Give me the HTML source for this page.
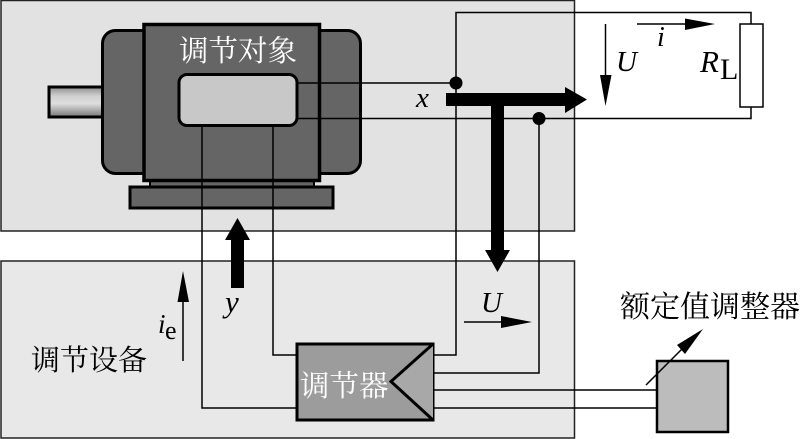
<!DOCTYPE html>
<html><head><meta charset="utf-8"><style>
html,body{margin:0;padding:0;background:#fff;width:800px;height:439px;overflow:hidden}
svg{display:block}
.c{font-family:"Liberation Serif","Noto Serif CJK SC",serif}
.i{font-family:"Liberation Serif",serif;font-style:italic}
.r{font-family:"Liberation Serif",serif}
</style></head><body>
<svg width="800" height="439" viewBox="0 0 800 439" xmlns="http://www.w3.org/2000/svg">
<defs>
<linearGradient id="s" x1="0" y1="0" x2="0" y2="1">
<stop offset="0" stop-color="#8e8e8e"/><stop offset=".3" stop-color="#d0d0d0"/><stop offset=".55" stop-color="#dedede"/><stop offset="1" stop-color="#777"/>
</linearGradient>
</defs>
<!-- panels -->
<rect x="1" y="0.5" width="573.5" height="230.5" fill="#e2e2e2" stroke="#222" stroke-width="1.5"/>
<rect x="1" y="261" width="573.5" height="177" fill="#e8e8e8" stroke="#222" stroke-width="1.5"/>
<!-- motor -->
<rect x="49" y="87" width="54" height="30" fill="url(#s)" stroke="#000" stroke-width="3"/>
<rect x="102.500" y="30.500" width="258" height="143" rx="13" fill="#656565" stroke="#000" stroke-width="3"/>
<rect x="150" y="178" width="164" height="10" fill="#656565" stroke="#000" stroke-width="2"/>
<rect x="130" y="187" width="203" height="21" fill="#656565" stroke="#000" stroke-width="3"/>
<rect x="144" y="24.500" width="175.500" height="156" fill="#656565" stroke="#000" stroke-width="3.500"/>
<rect x="179" y="74.500" width="118" height="51" rx="8" fill="#c8c8c8" stroke="#000" stroke-width="3"/>
<!-- wires -->
<g fill="none" stroke="#000" stroke-width="1.500">
<path d="M202 126V408H296"/>
<path d="M273 126V355H296"/>
<path d="M297 83H456"/>
<path d="M297 118.500H751V107"/>
<path d="M433 355H456V12.500H751V24"/>
<path d="M539 118.500V373H433"/>
<path d="M433 390H657"/>
<path d="M433 408H657"/>
</g>
<circle cx="456" cy="83" r="6.500" fill="#000"/>
<circle cx="539" cy="118.500" r="6.500" fill="#000"/>
<!-- thick arrows -->
<path d="M446 93H565V87L587 99.500L565 113V106H504V250H510L497.500 272L485 250H491V106H446Z" fill="#000"/>
<path d="M231 288V240H225L237.500 218L250 240H244V288Z" fill="#000"/>
<!-- thin arrows -->
<g fill="#000" stroke="#000">
<path d="M605.500 24V80" stroke-width="1.500"/>
<path d="M600 75H611.500L605.500 106Z" stroke="none"/>
<path d="M637 24H690" stroke-width="1.500"/>
<path d="M685 18.500L715 24L685 30Z" stroke="none"/>
<path d="M183 361V295" stroke-width="1.500"/>
<path d="M183 271L189 302H177.500Z" stroke="none"/>
<path d="M464 322H510" stroke-width="1.500"/>
<path d="M501 316L532 322L501 328Z" stroke="none"/>
</g>
<!-- load -->
<rect x="740" y="24" width="23" height="83" fill="#fff" stroke="#000" stroke-width="1.500"/>
<!-- regulator -->
<rect x="297" y="344" width="136" height="76" fill="#9c9c9c" stroke="#000" stroke-width="3"/>
<path d="M433 344L391 381.500L433 420" fill="#a8a8a8" stroke="#000" stroke-width="3"/>
<!-- setpoint -->
<rect x="657" y="361" width="71" height="71" fill="#bcbcbc" stroke="#000" stroke-width="2.500"/>
<path d="M646 385L685 346" stroke="#000" stroke-width="1.500"/>
<path d="M703 329L685 354L677 345Z" fill="#000"/>
<!-- text -->
<text class="c" x="179" y="61" font-size="29.500" fill="#fff">调节对象</text>
<text class="c" x="31" y="370" font-size="29" fill="#000">调节设备</text>
<text class="c" x="300" y="396" font-size="29.500" fill="#fff">调节器</text>
<text class="c" x="620" y="317" font-size="30" fill="#000">额定值调整器</text>
<text class="i" x="416" y="107" font-size="29">x</text>
<text class="i" x="225" y="312" font-size="31">y</text>
<text class="i" x="657" y="46" font-size="28">i</text>
<text class="i" x="616" y="71" font-size="29">U</text>
<text class="i" x="481" y="312" font-size="29">U</text>
<text class="i" x="700" y="72" font-size="31">R</text>
<text class="r" x="720" y="79" font-size="30">L</text>
<text class="i" x="158" y="333" font-size="27">i</text>
<text class="r" x="165" y="339" font-size="26">e</text>
</svg>
</body></html>
